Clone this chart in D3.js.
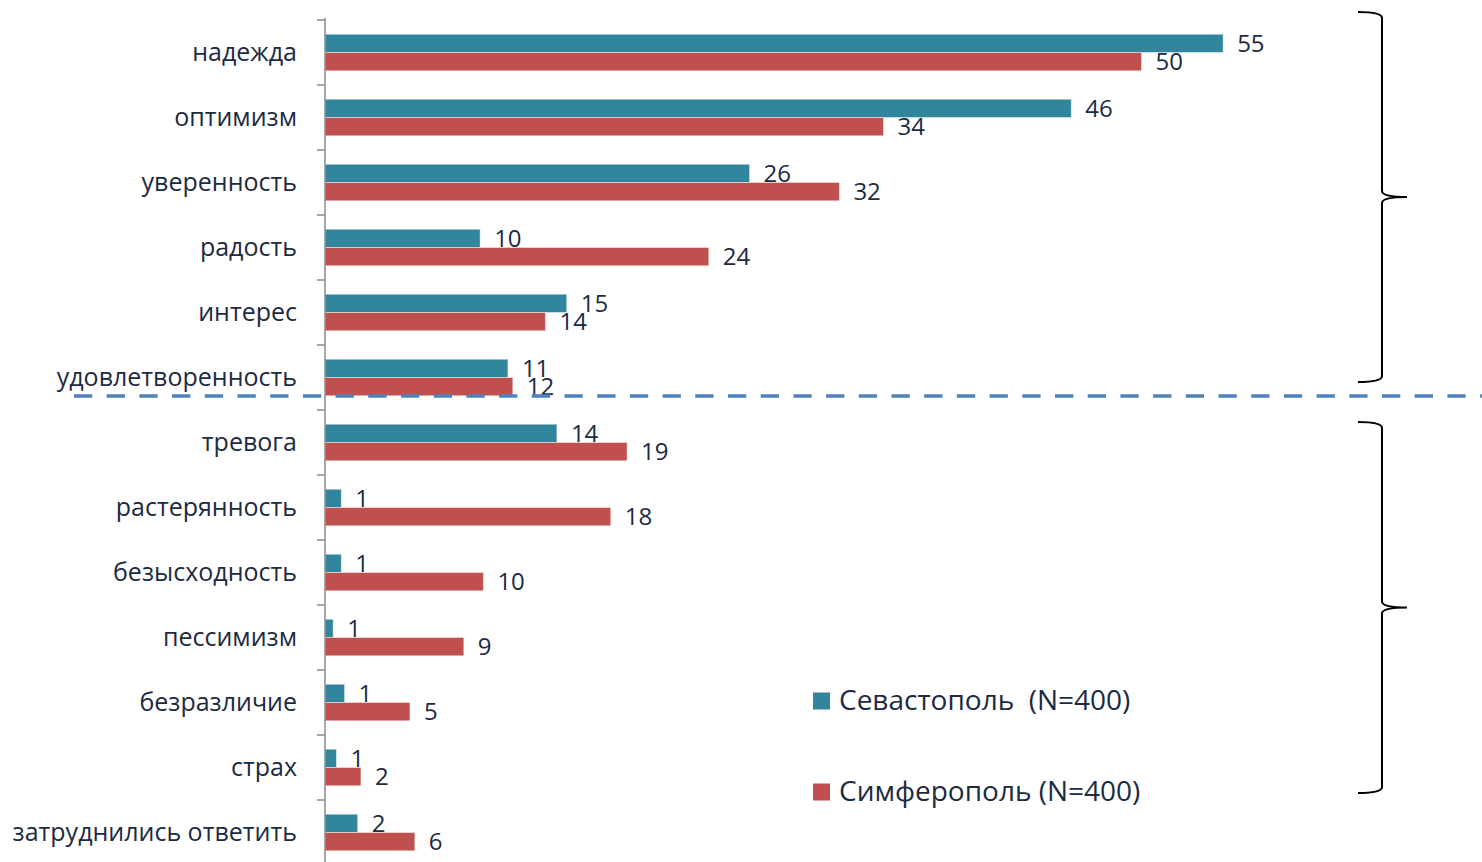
<!DOCTYPE html>
<html><head><meta charset="utf-8">
<script src="https://cdn.jsdelivr.net/npm/d3@7/dist/d3.min.js"></script>
<style>
html,body{margin:0;padding:0;background:#fff;}
svg{display:block;}
text{font-family:"Open Sans",sans-serif;fill:#1c2a42;}
</style></head>
<body>
<svg id="chart" width="1482" height="862"></svg>
<script>
const categories = ["надежда","оптимизм","уверенность","радость","интерес","удовлетворенность","тревога","растерянность","безысходность","пессимизм","безразличие","страх","затруднились ответить"];
const seriesNames = ["Севастополь  (N=400)","Симферополь (N=400)"];
const sevastopol = [55, 45.7, 26, 9.5, 14.8, 11.2, 14.2, 1.0, 1.0, 0.5, 1.2, 0.7, 2.0];
const simferopol = [50, 34.2, 31.5, 23.5, 13.5, 11.5, 18.5, 17.5, 9.7, 8.5, 5.2, 2.2, 5.5];
const sevLabels = [55, 46, 26, 10, 15, 11, 14, 1, 1, 1, 1, 1, 2];
const simLabels = [50, 34, 32, 24, 14, 12, 19, 18, 10, 9, 5, 2, 6];
const colors = ["#31859c","#c0504d"];

const svg = d3.select("#chart");
const axisX = 325;
const x = d3.scaleLinear().domain([0, 60]).range([axisX, axisX + 60*16.33]);
const y0 = d3.scaleBand().domain(categories).range([20, 20 + 65*13]).padding(0);
const y1 = d3.scaleBand().domain(d3.range(2)).range([0, y0.bandwidth()]).paddingInner(0).paddingOuter(0.78);

const rows = categories.map((c,i)=>({c, vals:[sevastopol[i], simferopol[i]], labs:[sevLabels[i], simLabels[i]]}));

// bars
const g = svg.append("g");
const grp = g.selectAll("g.cat").data(rows).join("g").attr("transform", d=>`translate(0,${y0(d.c)})`);
grp.selectAll("rect").data(d=>d.vals.map((v,k)=>({v,k}))).join("rect")
  .attr("x", x(0)).attr("y", d=>y1(d.k)).attr("width", d=>x(d.v)-x(0)).attr("height", y1.bandwidth())
  .attr("fill", d=>colors[d.k]).attr("stroke","rgba(255,255,255,0.45)").attr("stroke-width",1);
grp.selectAll("text.val").data(d=>d.vals.map((v,k)=>({v,k,l:d.labs[k]}))).join("text")
  .attr("class","val").attr("x", d=>x(d.v)+14).attr("y", d=>y1(d.k)+y1.bandwidth()/2+2)
  .attr("dominant-baseline","middle").style("font-size","24px").text(d=>d.l);

// axis
const axis = d3.axisLeft(y0).tickSize(0).tickPadding(28);
const ag = svg.append("g").attr("transform",`translate(${axisX},0)`).call(axis);
ag.select(".domain").remove();
ag.selectAll(".tick text").style("font-size","25px").style("font-family","'Open Sans',sans-serif").attr("fill","#1c2a42").attr("dy","0.32em");
svg.append("line").attr("x1",axisX).attr("x2",axisX).attr("y1",18).attr("y2",862).attr("stroke","#8a8a8a").attr("stroke-width",1.5);
const bounds = categories.map(c=>y0(c)).concat([y0.range()[1]]);
svg.selectAll("line.tk").data(bounds).join("line").attr("class","tk")
  .attr("x1",axisX-8).attr("x2",axisX).attr("y1",d=>d).attr("y2",d=>d).attr("stroke","#8a8a8a").attr("stroke-width",1.5);

// dashed separator
const sepY = y0("тревога") - 14;
svg.append("line").attr("x1",74).attr("x2",1482).attr("y1",sepY).attr("y2",sepY)
  .attr("stroke","#4f81bd").attr("stroke-width",3.5).attr("stroke-dasharray","18.3 14.4");

// braces
function brace(t,b){
  const xe=1358, xv=1382, xp=1407, m=(t+b)/2;
  return `M${xe},${t} Q${xv},${t} ${xv},${t+6} L${xv},${m-6} Q${xv},${m} ${xp},${m} M${xv},${m+6} Q${xv},${m} ${xp},${m} M${xv},${m+6} L${xv},${b-6} Q${xv},${b} ${xe},${b}`;
}
svg.selectAll("path.brace").data([[12,382],[422,793]]).join("path").attr("class","brace")
  .attr("d", d=>brace(d[0],d[1])).attr("fill","none").attr("stroke","#000").attr("stroke-width",2);

// legend
const leg = svg.append("g");
const legY = [701, 792];
seriesNames.forEach((n,k)=>{
  leg.append("rect").attr("x",813).attr("y",legY[k]-8.5).attr("width",17).attr("height",17).attr("fill",colors[k]);
  leg.append("text").attr("x",839).attr("y",legY[k]).attr("dominant-baseline","middle").attr("dy","0.05em")
    .style("font-size","28px").style("white-space","pre").attr("xml:space","preserve").text(n);
});
</script>
</body></html>
